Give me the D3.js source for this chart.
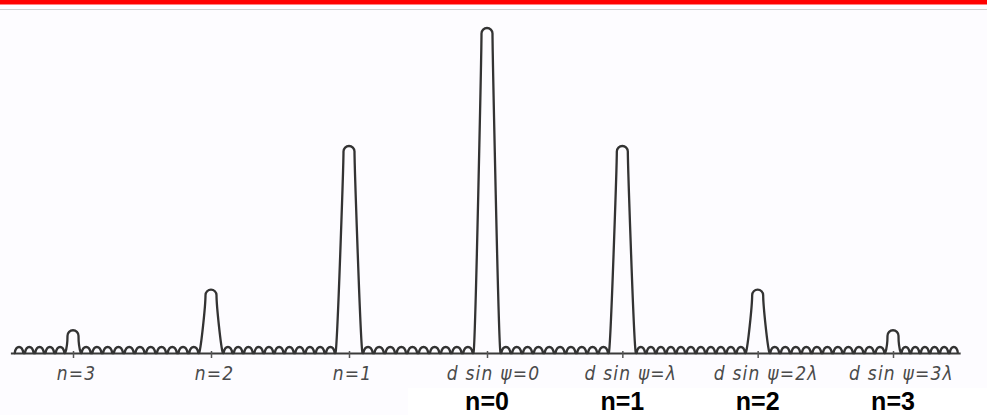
<!DOCTYPE html>
<html lang="en">
<head>
<meta charset="UTF-8">
<title>Diffraction grating maxima</title>
<style>
  html, body { margin: 0; padding: 0; background: #fdfcff; }
  svg { display: block; }
  .tick-lbl { font-family: "DejaVu Sans Condensed", "Liberation Sans Narrow", sans-serif; font-style: italic; }
</style>
</head>
<body>
<div id="chart"></div>
<script src="https://d3js.org/d3.v7.min.js"></script>
<script>
// order of the principal maximum, relative height, tick text
const orders = [-3, -2, -1, 0, 1, 2, 3];
const peakHeights = [0.07, 0.195, 0.637, 1, 0.637, 0.195, 0.07];
const tickLabels = ["n=3", "n=2", "n=1", "d sin \u03C8=0", "d sin \u03C8=\u03BB", "d sin \u03C8=2\u03BB", "d sin \u03C8=3\u03BB"];
// number of small secondary maxima in each stretch (left edge, gaps, right edge)
const rippleCounts = [5, 11, 11, 10, 10, 11, 11, 6];
const axisExtent = [-3.45, 3.5];
const bottomOrders = [0, 1, 2, 3];
const bottomLabels = ["n=0", "n=1", "n=2", "n=3"];

const W = 987, H = 415;
const base = 353;

const svg = d3.select('#chart').append('svg')
  .attr('width', W).attr('height', H);

// header stripe
svg.append('rect').attr('x', 0).attr('y', 0).attr('width', W).attr('height', 4).attr('fill', '#ff0000');
svg.append('rect').attr('x', 0).attr('y', 4).attr('width', W).attr('height', 1).attr('fill', '#ff8080');
svg.append('rect').attr('x', 0).attr('y', 9).attr('width', W).attr('height', 1).attr('fill', '#cfcfcf');

// white box behind bold labels
svg.append('rect').attr('x', 408).attr('y', 388).attr('width', W - 408).attr('height', H - 388).attr('fill', '#ffffff');

const x = d3.scaleLinear().domain([-3, 0, 3]).range([73, 487, 893]);
const y = d3.scaleLinear().domain([0, 1]).range([base, 28]);

// baseline
svg.append('line')
  .attr('x1', x(axisExtent[0])).attr('x2', x(axisExtent[1]))
  .attr('y1', base + 0.5).attr('y2', base + 0.5)
  .attr('stroke', '#3a3a3a').attr('stroke-width', 2);

// curve: ripples + peaks as one path
const topW = 11;
function baseW(h) { return topW + Math.min(16, (base - y(h)) * 0.2); }
const rippleH = 6;
function ripples(a, b, n) {
  const w = (b - a) / n;
  let s = '';
  for (let i = 0; i < n; i++) {
    const x0 = a + i * w + w * 0.08, x1 = a + (i + 1) * w - w * 0.08;
    s += `L${x0},${base} C${x0 + w * 0.12},${base - rippleH * 1.33} ${x1 - w * 0.12},${base - rippleH * 1.33} ${x1},${base} `;
  }
  return s;
}
let d = `M${x(axisExtent[0]) + 3},${base} `;
let cursor = x(axisExtent[0]) + 3;
orders.forEach((o, i) => {
  const cx = x(o), bw = baseW(peakHeights[i]), top = y(peakHeights[i]), r = topW / 2;
  d += ripples(cursor, cx - bw / 2, rippleCounts[i]);
  d += `L${cx - bw / 2},${base} C${cx - bw / 2 + 2},${base - 6} ${cx - r},${Math.min(base - 8, top + r + 10)} ${cx - r},${top + r} `;
  d += `A${r},${r} 0 0 1 ${cx + r},${top + r} `;
  d += `C${cx + r},${Math.min(base - 8, top + r + 10)} ${cx + bw / 2 - 2},${base - 6} ${cx + bw / 2},${base} `;
  cursor = cx + bw / 2;
});
d += ripples(cursor, x(axisExtent[1]) - 2, rippleCounts[rippleCounts.length - 1]);

svg.append('path')
  .attr('d', d)
  .attr('fill', 'none')
  .attr('stroke', '#333')
  .attr('stroke-width', 2.3)
  .attr('stroke-linejoin', 'round');

// axis ticks + italic labels
const axis = d3.axisBottom(x)
  .tickValues(orders)
  .tickSize(5)
  .tickPadding(9)
  .tickFormat((v, i) => tickLabels[i]);

const gAxis = svg.append('g')
  .attr('transform', `translate(0,${base})`)
  .call(axis);
gAxis.select('.domain').remove();
gAxis.selectAll('.tick line').attr('stroke', '#555').attr('stroke-width', 1.5).attr('y1', -2);
gAxis.selectAll('.tick text')
  .attr('class', 'tick-lbl')
  .attr('fill', '#4a4a4a')
  .attr('font-size', 19)
  .attr('letter-spacing', 1.2)
  .attr('dx', (v) => v > 0 ? 8 : (v === 0 ? 6 : 3));

// bold order labels
svg.selectAll('.blab')
  .data(bottomOrders)
  .enter()
  .append('text')
  .attr('class', 'blab')
  .attr('x', (o) => x(o))
  .attr('y', 410)
  .attr('text-anchor', 'middle')
  .attr('font-family', '"Liberation Sans", Arial, sans-serif')
  .attr('font-weight', 'bold')
  .attr('font-size', 25)
  .attr('fill', '#000')
  .text((o, i) => bottomLabels[i]);
</script>
</body>
</html>
